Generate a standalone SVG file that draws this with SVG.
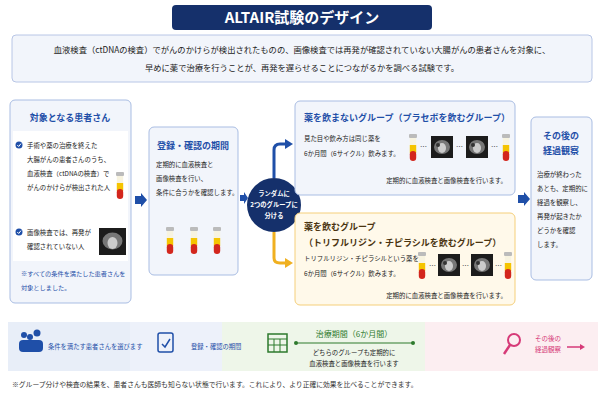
<svg xmlns="http://www.w3.org/2000/svg" width="605" height="403" viewBox="0 0 605 403">
<style>
text{font-family:"Noto Sans CJK JP","Noto Sans",sans-serif;}
.t{font-size:6.4px;fill:#222;}
.h{font-size:9px;font-weight:bold;fill:#1f4fa8;}
.s{font-size:6.2px;fill:#1f4fa8;}
.dots{font-size:7px;fill:#333;}
</style>
<defs>
<g id="tube">
<rect x="0" y="0" width="8" height="4" rx="1" fill="#bbb"/>
<rect x="0.8" y="4" width="6.4" height="7" fill="#f7f3e0"/>
<rect x="0.8" y="11" width="6.4" height="8" fill="#f5c400"/>
<rect x="0.8" y="17" width="6.4" height="10" rx="3.2" fill="#d3261d"/>
</g>
<g id="scan">
<rect width="22" height="22" fill="#1c1c1c"/>
<ellipse cx="11" cy="11" rx="8" ry="7" fill="#777"/>
<ellipse cx="11" cy="12" rx="4" ry="5" fill="#ccc"/>
<circle cx="7" cy="9" r="2" fill="#333"/>
</g>
<g id="arrow"><path d="M0,-4 H6 V-7 L12,0 L6,7 V4 H0Z" fill="#1f4fa8"/></g>
</defs>
<rect width="605" height="403" fill="#fff"/>
<g id="title">
<rect x="172" y="5" width="260" height="25" rx="4" fill="#15306b"/>
<text x="302" y="23" text-anchor="middle" style="font-size:15px;font-weight:bold;fill:#fff">ALTAIR試験のデザイン</text>
</g>
<g id="intro">
<rect x="12" y="35" width="580" height="47" rx="4" fill="#f2f5fb" stroke="#b8c6e6"/>
<text x="302" y="53" text-anchor="middle" style="font-size:8.3px;fill:#222">血液検査（ctDNAの検査）でがんのかけらが検出されたものの、画像検査では再発が確認されていない大腸がんの患者さんを対象に、</text>
<text x="302" y="71" text-anchor="middle" style="font-size:8.3px;fill:#222">早めに薬で治療を行うことが、再発を遅らせることにつながるかを調べる試験です。</text>
</g>
<g id="patients">
<rect x="10" y="100" width="121" height="203" rx="5" fill="#f2f5fb" stroke="#a9bde3"/>
<text x="70" y="121" text-anchor="middle" class="h">対象となる患者さん</text>
<rect x="13" y="131" width="115" height="130" fill="#fff"/>
<circle cx="19" cy="145" r="3.5" fill="#1f4fa8"/>
<path d="M17.3,145 L18.7,146.5 L21,143.6" fill="none" stroke="#fff" stroke-width="1"/>
<text x="27" y="148" class="t">手術や薬の治療を終えた</text>
<text x="27" y="162" class="t">大腸がんの患者さんのうち、</text>
<text x="27" y="176" class="t">血液検査（ctDNAの検査）で</text>
<text x="27" y="190" class="t">がんのかけらが検出された人</text>
<use href="#tube" x="116" y="172"/>
<circle cx="19" cy="232" r="3.5" fill="#1f4fa8"/>
<path d="M17.3,232 L18.7,233.5 L21,230.6" fill="none" stroke="#fff" stroke-width="1"/>
<text x="27" y="235" class="t">画像検査では、再発が</text>
<text x="27" y="249" class="t">確認されていない人</text>
<rect x="99" y="228" width="27" height="27" fill="#1c1c1c"/>
<ellipse cx="112.5" cy="241" rx="10" ry="8.5" fill="#777"/>
<ellipse cx="112.5" cy="243" rx="5" ry="6" fill="#ccc"/>
<text x="21" y="276" class="s">※すべての条件を満たした患者さんを</text>
<text x="21" y="290" class="s">対象としました。</text>
</g>
<g id="registration">
<rect x="149" y="127" width="89" height="148" rx="5" fill="#f2f5fb" stroke="#a9bde3"/>
<text x="193" y="149" text-anchor="middle" class="h">登録・確認の期間</text>
<text x="156" y="167" class="t">定期的に血液検査と</text>
<text x="156" y="181" class="t">画像検査を行い、</text>
<text x="156" y="195" class="t">条件に合うかを確認します。</text>
<use href="#tube" x="166" y="227"/>
<use href="#tube" x="190" y="227"/>
<use href="#tube" x="213" y="227"/>
</g>
<g id="random">
<circle cx="274" cy="205" r="27" fill="#15306b"/>
<text x="274" y="196" text-anchor="middle" style="font-size:6.3px;fill:#fff;font-weight:bold">ランダムに</text>
<text x="274" y="207" text-anchor="middle" style="font-size:6.3px;fill:#fff;font-weight:bold">2つのグループに</text>
<text x="274" y="218" text-anchor="middle" style="font-size:6.3px;fill:#fff;font-weight:bold">分ける</text>
</g>
<g id="placebo">
<rect x="295" y="101" width="220" height="94" rx="5" fill="#f2f5fb" stroke="#a9bde3"/>
<text x="304" y="121" class="h">薬を飲まないグループ（プラセボを飲むグループ）</text>
<text x="304" y="141" class="t">見た目や飲み方は同じ薬を</text>
<text x="304" y="156" class="t">6か月間（6サイクル）飲みます。</text>
<use href="#tube" x="409" y="134"/><text x="420" y="149" class="dots">…</text>
<use href="#scan" x="431" y="136"/><text x="456" y="149" class="dots">…</text>
<use href="#scan" x="466" y="136"/><text x="491" y="149" class="dots">…</text>
<use href="#tube" x="502" y="134"/>
<text x="507" y="183" text-anchor="end" class="t">定期的に血液検査と画像検査を行います。</text>
</g>
<g id="drug">
<rect x="295" y="213" width="220" height="92" rx="5" fill="#fff9ea" stroke="#f5cf7a"/>
<text x="304" y="230" class="h" style="fill:#4a3410">薬を飲むグループ</text>
<text x="304" y="246" class="h" style="fill:#4a3410">（トリフルリジン・チピラシルを飲むグループ）</text>
<text x="304" y="261" class="t">トリフルリジン・チピラシルという薬を</text>
<text x="304" y="276" class="t">6か月間（6サイクル）飲みます。</text>
<use href="#tube" x="418" y="252"/><text x="429" y="268" class="dots">…</text>
<use href="#scan" x="438" y="254"/><text x="462" y="268" class="dots">…</text>
<use href="#scan" x="471" y="254"/><text x="495" y="268" class="dots">…</text>
<use href="#tube" x="504" y="252"/>
<text x="507" y="298" text-anchor="end" class="t">定期的に血液検査と画像検査を行います。</text>
</g>
<g id="followup">
<rect x="531" y="117" width="61" height="163" rx="5" fill="#f2f5fb" stroke="#a9bde3"/>
<text x="561" y="139" text-anchor="middle" class="h">その後の</text>
<text x="561" y="154" text-anchor="middle" class="h">経過観察</text>
<text x="537" y="177" class="t">治療が終わった</text>
<text x="537" y="191" class="t">あとも、定期的に</text>
<text x="537" y="205" class="t">経過を観察し、</text>
<text x="537" y="219" class="t">再発が起きたか</text>
<text x="537" y="233" class="t">どうかを確認</text>
<text x="537" y="247" class="t">します。</text>
</g>
<g id="connectors">
<use href="#arrow" x="135" y="200"/>
<path d="M240,195 H244 V192 L248,198 L244,204 V201 H240Z" fill="#1f4fa8"/>
<path d="M274,178 V150 Q274,144 280,144 H286" fill="none" stroke="#1f4fa8" stroke-width="3"/>
<path d="M285,139 L293,144 L285,149Z" fill="#1f4fa8"/>
<path d="M274,232 V258 Q274,263 280,263 H286" fill="none" stroke="#f0b020" stroke-width="3"/>
<path d="M285,258 L293,263 L285,268Z" fill="#f0b020"/>
<use href="#arrow" x="518" y="199"/>
</g>
<g id="timeline">
<rect x="8" y="322" width="122" height="49" fill="#e8eef8"/>
<rect x="130" y="322" width="92" height="49" fill="#edf1fa"/>
<rect x="222" y="322" width="203" height="49" fill="#eef6e9"/>
<rect x="425" y="322" width="173" height="49" fill="#fceef1"/>
<circle cx="24" cy="335" r="3" fill="#1f4fa8"/><circle cx="37" cy="333" r="3.5" fill="#1f4fa8"/><circle cx="30" cy="337" r="3" fill="#1f4fa8"/>
<rect x="19" y="340" width="24" height="12" rx="4" fill="#1f4fa8"/>
<text x="48" y="349" style="font-size:6.3px;fill:#1f4fa8">条件を満たす患者さんを選びます</text>
<rect x="158" y="333" width="15" height="19" rx="2" fill="none" stroke="#1f4fa8" stroke-width="1.5"/>
<path d="M162,344 L165,347 L170,339" fill="none" stroke="#1f4fa8" stroke-width="1.5"/>
<text x="191" y="349" style="font-size:6.3px;fill:#1f4fa8">登録・確認の期間</text>
<rect x="268" y="334" width="19" height="18" fill="none" stroke="#2d7a2d" stroke-width="1.5"/>
<path d="M268,339 H287 M268,345 H287 M274,339 V352 M280,339 V352" stroke="#2d7a2d"/>
<line x1="296" y1="343" x2="413" y2="343" stroke="#2d7a2d" stroke-width="1.2"/>
<circle cx="296" cy="343" r="2" fill="#2d7a2d"/><circle cx="413" cy="343" r="2" fill="#2d7a2d"/>
<text x="354" y="337" text-anchor="middle" style="font-size:8px;fill:#2d7a2d">治療期間（6か月間）</text>
<text x="354" y="355" text-anchor="middle" class="t">どちらのグループも定期的に</text>
<text x="354" y="366" text-anchor="middle" class="t">血液検査と画像検査を行います</text>
<circle cx="514" cy="340" r="6" fill="none" stroke="#d63a78" stroke-width="2"/>
<line x1="510" y1="345" x2="504" y2="354" stroke="#d63a78" stroke-width="2.5"/>
<text x="548" y="341" text-anchor="middle" style="font-size:6.5px;fill:#d63a78">その後の</text>
<text x="548" y="352" text-anchor="middle" style="font-size:6.5px;fill:#d63a78">経過観察</text>
<path d="M567,347 H582" stroke="#d63a78" stroke-width="1.5"/><path d="M580,344 L585,347 L580,350Z" fill="#d63a78"/>
</g>
<text x="12" y="387" style="font-size:6.8px;fill:#333">※グループ分けや検査の結果を、患者さんも医師も知らない状態で行います。これにより、より正確に効果を比べることができます。</text>
</svg>
